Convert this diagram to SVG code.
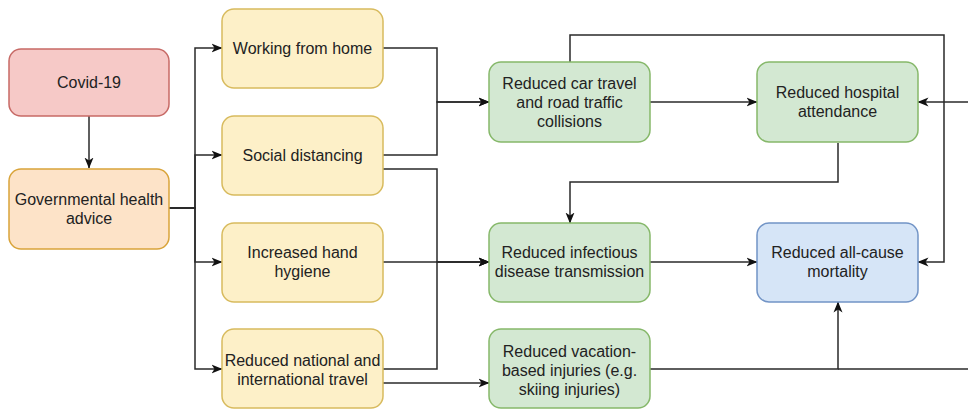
<svg xmlns="http://www.w3.org/2000/svg" width="968" height="410" viewBox="0 0 968 410">
<style>
.n rect{stroke-width:1.5}
.red rect{fill:#f6c9c7;stroke:#c76a66}
.org rect{fill:#fde3c8;stroke:#d9a43a}
.yel rect{fill:#fdf0c8;stroke:#d8bb5e}
.grn rect{fill:#d3e8d2;stroke:#86b86a}
.blu rect{fill:#d6e5f7;stroke:#7294c6}
text{font-family:"Liberation Sans",Arial,sans-serif;font-size:16px;fill:#222;text-anchor:middle}
.e path{fill:none;stroke:#2a2a2a;stroke-width:1.5;marker-end:url(#a)}
.e path.p{marker-end:none}
</style>
<defs>
<marker id="a" viewBox="0 0 11 10" refX="10.5" refY="5" markerWidth="11" markerHeight="10" markerUnits="userSpaceOnUse" orient="auto">
<path d="M0,0.5 L11,5 L0,9.5 L3,5 Z" fill="#111"/>
</marker>
</defs>
<rect width="968" height="410" fill="#fff"/>
<g class="e" id="connectors">
<path d="M89,116 V168"/>
<path d="M169,208 H195 V48 H222"/>
<path d="M169,208 H195 V155 H222"/>
<path d="M169,208 H195 V262 H222"/>
<path d="M169,208 H195 V369 H222"/>
<path d="M383,48 H437 V102 H489"/>
<path d="M383,155 H437 V102 H489"/>
<path d="M383,169 H437 V262 H489"/>
<path d="M383,262 H489"/>
<path d="M383,369 H437 V262 H489"/>
<path d="M383,383 H489"/>
<path d="M650,102 H757"/>
<path d="M570,62 V35 H944 V262 H918"/>
<path d="M838,143 V182 H570 V223"/>
<path d="M650,262 H757"/>
<path d="M650,369 H838 V302"/>
<path d="M968,102 H918"/>
<path class="p" d="M838,369 H968"/>
</g>
<g id="covid" class="n red"><rect x="9" y="49" width="160" height="67" rx="12"/><text x="89" y="88">Covid-19</text></g>
<g id="gov" class="n org"><rect x="9" y="169" width="160" height="80" rx="12"/><text x="89" y="205">Governmental health</text><text x="89" y="224">advice</text></g>
<g id="wfh" class="n yel"><rect x="222" y="9" width="161" height="79" rx="12"/><text x="302.5" y="54">Working from home</text></g>
<g id="social" class="n yel"><rect x="222" y="116" width="161" height="79" rx="12"/><text x="302.5" y="161">Social distancing</text></g>
<g id="hand" class="n yel"><rect x="222" y="223" width="161" height="79" rx="12"/><text x="302.5" y="258">Increased hand</text><text x="302.5" y="277">hygiene</text></g>
<g id="national" class="n yel"><rect x="222" y="329" width="161" height="79" rx="12"/><text x="302.5" y="366">Reduced national and</text><text x="302.5" y="385">international travel</text></g>
<g id="car" class="n grn"><rect x="489" y="62" width="161" height="80" rx="12"/><text x="569.5" y="89">Reduced car travel</text><text x="569.5" y="108">and road traffic</text><text x="569.5" y="127">collisions</text></g>
<g id="hospital" class="n grn"><rect x="757" y="62" width="161" height="80" rx="12"/><text x="837.5" y="98">Reduced hospital</text><text x="837.5" y="117">attendance</text></g>
<g id="infectious" class="n grn"><rect x="489" y="223" width="161" height="79" rx="12"/><text x="569.5" y="258">Reduced infectious</text><text x="569.5" y="277">disease transmission</text></g>
<g id="mortality" class="n blu"><rect x="757" y="223" width="161" height="79" rx="12"/><text x="837.5" y="258">Reduced all-cause</text><text x="837.5" y="277">mortality</text></g>
<g id="vacation" class="n grn"><rect x="489" y="329" width="161" height="79" rx="12"/><text x="569.5" y="357">Reduced vacation-</text><text x="569.5" y="376">based injuries (e.g.</text><text x="569.5" y="395">skiing injuries)</text></g>
</svg>
